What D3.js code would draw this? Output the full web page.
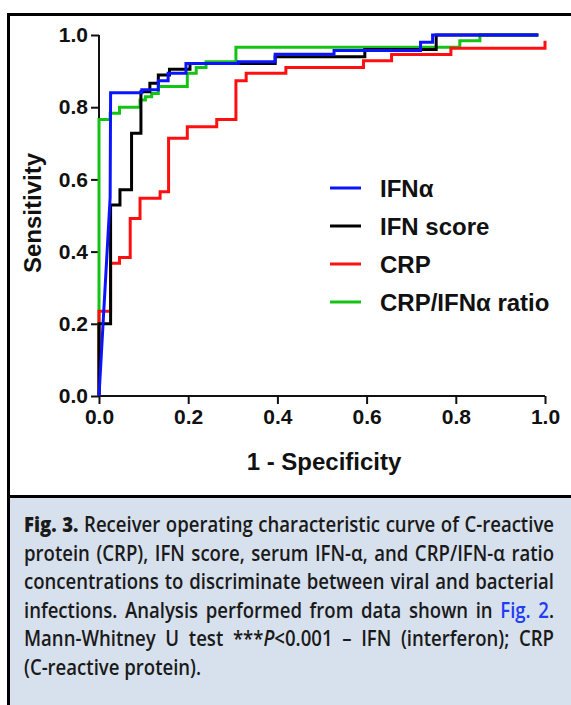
<!DOCTYPE html>
<html>
<head>
<meta charset="utf-8">
<script src="https://cdn.jsdelivr.net/npm/d3@7"></script>
<style>
  body { margin: 0; background: #fff; }
  #wrap { position: relative; width: 571px; height: 705px; overflow: hidden; }
  svg { position: absolute; left: 0; top: 0; }
  .tick text { font-family: "Liberation Sans", Arial, sans-serif; font-weight: bold; font-size: 21px; fill: #111; }
  .axis-label { font-family: "Liberation Sans", Arial, sans-serif; font-weight: bold; font-size: 24px; fill: #111; }
  .legend text { font-family: "Liberation Sans", Arial, sans-serif; font-weight: bold; font-size: 24px; fill: #111; }
  #caption { position: absolute; left: 24px; top: 510px; transform-origin: 0 0;
    font-family: "Open Sans", sans-serif; font-weight: 600; font-size: 21px;
    color: #1a1a1a; line-height: 28.5px; }
  #caption div { white-space: nowrap; }
  #caption div.just { text-align: justify; text-align-last: justify; }
  #caption b { font-weight: 800; }
  #caption .blue { color: #1f3df2; }
</style>
</head>
<body>
<div id="wrap">
  <svg id="chart" width="571" height="705"></svg>
  <div id="caption"></div>
</div>
<script>
// ROC points: [1 - specificity, sensitivity]
const ifnAlpha = [[0,0],[0.025,0.55],[0.026,0.84],[0.096,0.84],[0.096,0.848],[0.133,0.848],[0.133,0.873],[0.155,0.873],[0.155,0.894],[0.195,0.894],[0.195,0.921],[0.312,0.921],[0.312,0.926],[0.395,0.926],[0.395,0.947],[0.527,0.947],[0.527,0.957],[0.721,0.957],[0.721,0.98],[0.748,0.98],[0.748,1],[0.985,1]];
const ifnScore = [[0,0],[0,0.2],[0.026,0.2],[0.026,0.529],[0.047,0.529],[0.047,0.571],[0.073,0.571],[0.073,0.728],[0.094,0.728],[0.094,0.843],[0.114,0.843],[0.114,0.866],[0.133,0.866],[0.133,0.889],[0.158,0.889],[0.158,0.905],[0.204,0.905],[0.204,0.921],[0.395,0.921],[0.395,0.94],[0.596,0.94],[0.596,0.96],[0.756,0.96],[0.756,1],[0.985,1]];
const crp = [[0,0],[0,0.235],[0.026,0.235],[0.026,0.368],[0.046,0.368],[0.046,0.384],[0.07,0.384],[0.07,0.492],[0.092,0.492],[0.092,0.548],[0.137,0.548],[0.137,0.566],[0.156,0.566],[0.156,0.714],[0.198,0.714],[0.198,0.746],[0.264,0.746],[0.264,0.766],[0.307,0.766],[0.307,0.873],[0.33,0.873],[0.33,0.894],[0.419,0.894],[0.419,0.91],[0.593,0.91],[0.593,0.929],[0.656,0.929],[0.656,0.946],[0.789,0.946],[0.789,0.963],[1,0.963],[1,0.984]];
const crpIfnRatio = [[0,0],[0,0.766],[0.025,0.766],[0.025,0.783],[0.046,0.783],[0.046,0.8],[0.092,0.8],[0.092,0.82],[0.104,0.82],[0.104,0.829],[0.118,0.829],[0.118,0.838],[0.133,0.838],[0.133,0.857],[0.198,0.857],[0.198,0.894],[0.218,0.894],[0.218,0.91],[0.24,0.91],[0.24,0.926],[0.307,0.926],[0.307,0.966],[0.809,0.966],[0.809,0.984],[0.854,0.984],[0.854,1],[0.985,1]];

const seriesNames = ["IFNα", "IFN score", "CRP", "CRP/IFNα ratio"];
const seriesColors = ["#0a14ff", "#000000", "#ff1010", "#14c414"];
const seriesData = [ifnAlpha, ifnScore, crp, crpIfnRatio];
const drawOrder = [3, 2, 1, 0]; // green first, blue on top

const xTicks = [0, 0.2, 0.4, 0.6, 0.8, 1.0];
const yTicks = [0, 0.2, 0.4, 0.6, 0.8, 1.0];

const captionLines = [
  '<b>Fig. 3.</b> Receiver operating characteristic curve of C-reactive',
  'protein (CRP), IFN score, serum IFN-α, and CRP/IFN-α ratio',
  'concentrations to discriminate between viral and bacterial',
  'infections. Analysis performed from data shown in <span class="blue">Fig. 2</span>.',
  'Mann-Whitney U test ***<i>P</i>&lt;0.001 – IFN (interferon); CRP',
  '(C-reactive protein).'
];

// Chart Configuration
const margin = { left: 99, top: 35 };
const width = 446;
const height = 361;

const svg = d3.select("#chart");

// frame and caption panel
svg.append("rect").attr("x", 8).attr("y", 497).attr("width", 570).attr("height", 220).attr("fill", "#d7e0ed");
svg.append("path")
  .attr("d", "M8.5,710 V14.5 H575 M8.5,496.5 H575")
  .attr("fill", "none").attr("stroke", "#000").attr("stroke-width", 3);

const chartGroup = svg.append("g").attr("transform", `translate(${margin.left},${margin.top})`);

const xScale = d3.scaleLinear().domain([0, 1]).range([0, width]);
const yScale = d3.scaleLinear().domain([0, 1]).range([height, 0]);

const xAxis = d3.axisBottom(xScale).tickValues(xTicks).tickFormat(d3.format(".1f")).tickSize(8).tickPadding(5);
const yAxis = d3.axisLeft(yScale).tickValues(yTicks).tickFormat(d3.format(".1f")).tickSize(8).tickPadding(3);

chartGroup.append("g").attr("class", "axis x-axis")
  .attr("transform", `translate(0,${height})`).call(xAxis);
chartGroup.append("g").attr("class", "axis y-axis").call(yAxis);

chartGroup.selectAll(".axis path, .axis line").attr("stroke", "#111").attr("stroke-width", 2);
chartGroup.selectAll(".axis path").attr("d", function () {
  return d3.select(this.parentNode).classed("x-axis") ? `M0,0H${width}` : `M0,0V${height}`;
});

// Label on x-axis
chartGroup.append("text")
  .attr("class", "axis-label")
  .attr("x", width / 2 + 2)
  .attr("y", height + 74)
  .attr("text-anchor", "middle")
  .text("1 - Specificity");

// Label on y-axis
chartGroup.append("text")
  .attr("class", "axis-label")
  .attr("transform", "rotate(-90)")
  .attr("x", -178)
  .attr("y", -58)
  .attr("text-anchor", "middle")
  .text("Sensitivity");

const line = d3.line()
  .x((d) => xScale(d[0]))
  .y((d) => yScale(d[1]));

drawOrder.forEach((i) => {
  chartGroup.append("path")
    .datum(seriesData[i])
    .attr("fill", "none")
    .attr("stroke", seriesColors[i])
    .attr("stroke-width", 3)
    .attr("d", line);
});

// Legend
const legend = svg.append("g").attr("class", "legend").attr("transform", "translate(330,188)");
const legendRows = legend.selectAll("g").data(seriesNames).join("g")
  .attr("transform", (d, i) => `translate(0,${i * 38})`);
legendRows.append("line")
  .attr("x1", 0).attr("x2", 31).attr("y1", 0).attr("y2", 0)
  .attr("stroke", (d, i) => seriesColors[i]).attr("stroke-width", 3);
legendRows.append("text")
  .attr("x", 50).attr("y", 9)
  .text((d) => d);

// Caption: condensed, justified lines
const caption = d3.select("#caption");
const rows = caption.selectAll("div").data(captionLines).join("div").html((d) => d);
// measure natural widths to find the horizontal squeeze
let maxW = 0;
rows.each(function (d, i) {
  if (i < captionLines.length - 1) {
    const s = document.createElement("span");
    s.innerHTML = d;
    this.innerHTML = "";
    this.appendChild(s);
    maxW = Math.max(maxW, s.getBoundingClientRect().width);
    this.innerHTML = d;
  }
});
const boxW = 530;
const sx = boxW / (maxW * 1.01);
caption.style("width", `${boxW / sx}px`).style("transform", `scaleX(${sx})`);
rows.classed("just", (d, i) => i < captionLines.length - 1);
</script>
</body>
</html>
